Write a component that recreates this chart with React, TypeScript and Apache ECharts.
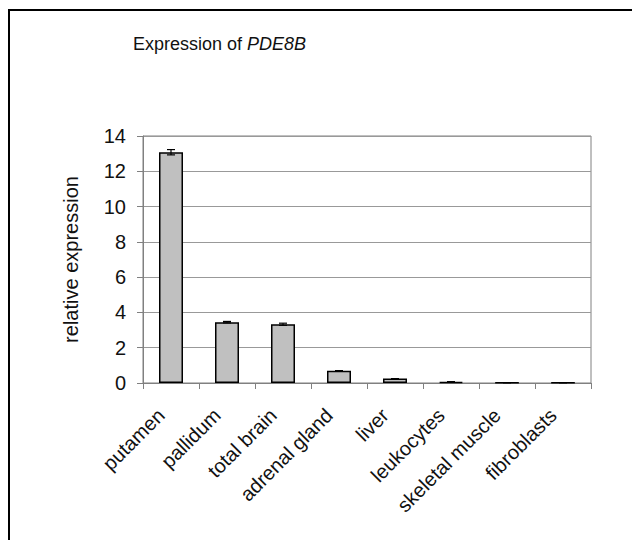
import React, { useEffect, useRef } from "react";
import * as echarts from "echarts";

const categories = [
  "putamen",
  "pallidum",
  "total brain",
  "adrenal gland",
  "liver",
  "leukocytes",
  "skeletal muscle",
  "fibroblasts",
];
const values = [13.08, 3.45, 3.33, 0.7, 0.25, 0.07, 0.02, 0.02];
const errors = [0.15, 0.04, 0.06, 0.0, 0.0, 0.0, 0.0, 0.0];
const yTicks = { min: 0, max: 14, interval: 2 };

const FONT = "'Liberation Sans', Arial, sans-serif";

export default function App() {
  const ref = useRef<HTMLDivElement>(null);
  useEffect(() => {
    if (!ref.current) return;
    const chart = echarts.init(ref.current, null, { renderer: "svg" });
    const errData = values.map((v, i) => [i, v - errors[i], v + errors[i]]);
    chart.setOption({
      animation: false,
      backgroundColor: "#fff",
      textStyle: { fontFamily: FONT, color: "#000" },
      title: {
        left: 133,
        top: 35,
        padding: 0,
        text: "Expression of {i|PDE8B}",
        textStyle: {
          fontFamily: FONT,
          fontSize: 18,
          fontWeight: "normal",
          color: "#111",
          rich: {
            i: { fontFamily: FONT, fontSize: 18, fontStyle: "italic", color: "#111" },
          },
        },
      },
      graphic: [
        {
          type: "rect",
          shape: { x: 9, y: 10, width: 800, height: 800 },
          style: { fill: "none", stroke: "#000", lineWidth: 2 },
          silent: true,
        },
      ],
      grid: {
        left: 143,
        top: 136,
        right: 41,
        bottom: 157,
        show: true,
        borderColor: "#808080",
        borderWidth: 1,
        backgroundColor: "transparent",
      },
      xAxis: {
        type: "category",
        data: categories,
        axisLine: { show: true, lineStyle: { color: "#808080", width: 1 } },
        axisTick: { show: true, length: 6, alignWithLabel: false, lineStyle: { color: "#808080" } },
        axisLabel: {
          rotate: 45,
          interval: 0,
          margin: 19,
          padding: [0, 14, 0, 0],
          fontSize: 20,
          fontFamily: FONT,
          color: "#111",
        },
        splitLine: { show: false },
      },
      yAxis: {
        type: "value",
        min: yTicks.min,
        max: yTicks.max,
        interval: yTicks.interval,
        name: "relative expression",
        nameLocation: "middle",
        nameGap: 62,
        nameRotate: 90,
        nameTextStyle: { fontSize: 20, fontFamily: FONT, color: "#111" },
        axisLine: { show: true, lineStyle: { color: "#808080", width: 1 } },
        axisTick: { show: true, length: 6, lineStyle: { color: "#808080" } },
        axisLabel: { fontSize: 20, fontFamily: FONT, color: "#111", margin: 17 },
        splitLine: { show: true, lineStyle: { color: "#999999", width: 1 } },
      },
      series: [
        {
          type: "bar",
          data: values,
          barWidth: 24,
          itemStyle: { color: "#c0c0c0", borderColor: "#000", borderWidth: 1.5 },
          z: 2,
        },
        {
          type: "custom",
          data: errData,
          z: 3,
          renderItem: (params: any, api: any) => {
            const x = api.value(0);
            const lo = api.coord([x, api.value(1)]);
            const hi = api.coord([x, api.value(2)]);
            const half = 4;
            const style = { stroke: "#000", lineWidth: 1.2 };
            return {
              type: "group",
              children: [
                { type: "line", shape: { x1: hi[0], y1: hi[1], x2: lo[0], y2: lo[1] }, style },
                { type: "line", shape: { x1: hi[0] - half, y1: hi[1], x2: hi[0] + half, y2: hi[1] }, style },
                { type: "line", shape: { x1: lo[0] - half, y1: lo[1], x2: lo[0] + half, y2: lo[1] }, style },
              ],
            };
          },
        },
      ],
    });
    return () => chart.dispose();
  }, []);
  return (
    <div
      ref={ref}
      style={{ position: "fixed", left: 0, top: 0, width: 632, height: 540 }}
    />
  );
}
